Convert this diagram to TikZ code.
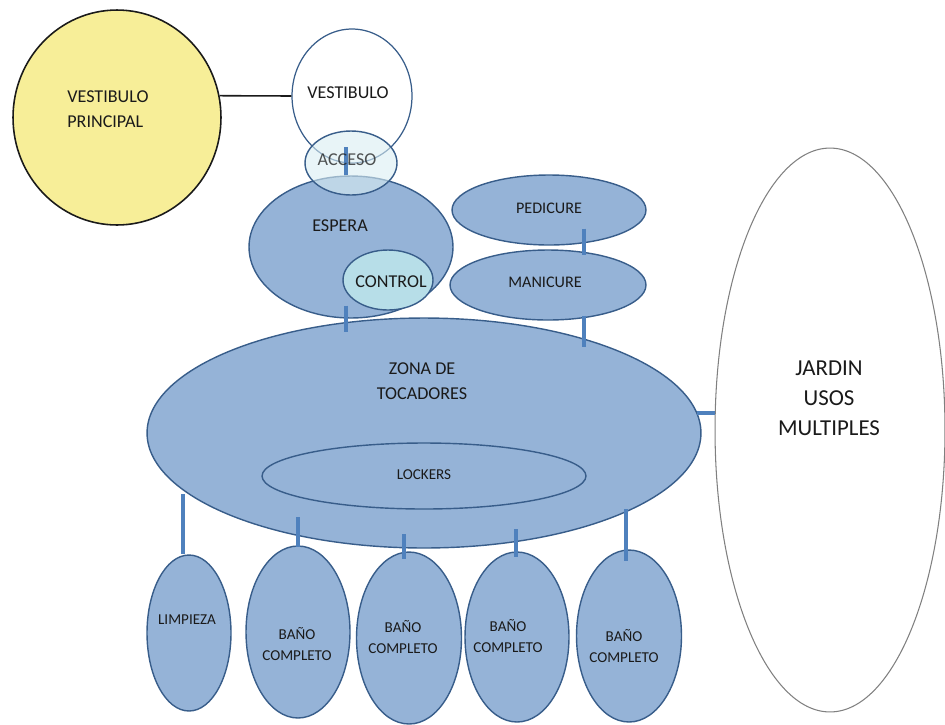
\documentclass[tikz,border=0pt]{standalone}
\usepackage{fontspec}
\setmainfont{Carlito}
\usetikzlibrary{shapes.geometric,calc}
\definecolor{zonefill}{HTML}{95B3D7}
\definecolor{zoneline}{HTML}{385D8A}
\definecolor{linkblue}{HTML}{4F81BD}
\definecolor{ctlfill}{HTML}{B7DEE8}
\definecolor{accfill}{HTML}{DAEEF3}
\definecolor{lobbyfill}{HTML}{F7EE98}
\definecolor{txt}{HTML}{1A1A1A}
\begin{document}
\begin{tikzpicture}[x=0.02cm,y=-0.02cm,
  room/.style={ellipse,draw=zoneline,line width=0.8pt,fill=zonefill,inner sep=0pt},
  link/.style={draw=linkblue,line width=1.8pt},
  lbl/.style={text=txt,align=center,inner sep=0pt},
  fsA/.style={font=\fontsize{10.3}{14}\selectfont},
  fsB/.style={font=\fontsize{9.2}{13}\selectfont},
  fsC/.style={font=\fontsize{8.6}{12.5}\selectfont},
  fsD/.style={font=\fontsize{13}{17}\selectfont}]
\useasboundingbox (0,0) rectangle (945,724);

% main lobby and entrance hall
\node[ellipse,draw=txt,line width=0.9pt,fill=lobbyfill,minimum width=4.16cm,minimum height=4.3cm,inner sep=0pt] (vp) at (117,117.5) {};
\node[ellipse,draw=zoneline,line width=0.7pt,fill=white,minimum width=2.4cm,minimum height=2.68cm,inner sep=0pt] (vest) at (352,96) {};
\draw[txt,line width=0.9pt] (vp.12) -- (vest.west);

% waiting area and control desk
\node[room,minimum width=4.08cm,minimum height=2.84cm] (esp) at (351,247) {};
\node[room,fill=ctlfill,minimum width=1.8cm,minimum height=1.2cm] (ctl) at (388,280) {};

% access, translucent over hall and waiting area
\node[ellipse,draw=zoneline,line width=0.8pt,fill=accfill,fill opacity=0.6,minimum width=1.84cm,minimum height=1.28cm,inner sep=0pt] (acc) at (351,163) {};
\draw[link] ($(acc.center)+(-5,-16)$) -- ($(acc.center)+(-5,12)$);

% pedicure / manicure
\node[room,minimum width=3.88cm,minimum height=1.4cm] (ped) at (549,210) {};
\node[room,minimum width=3.92cm,minimum height=1.4cm] (man) at (548,285) {};

% dressing zone with lockers
\node[room,minimum width=11.08cm,minimum height=4.6cm] (zona) at (424,433) {};
\node[room,minimum width=6.48cm,minimum height=1.32cm] (lock) at (424,476) {};

% garden
\node[ellipse,draw=black!50,line width=0.6pt,fill=white,minimum width=4.6cm,minimum height=11.28cm,inner sep=0pt] (jar) at (830,430) {};

% cleaning room and bathrooms
\node[room,minimum width=1.68cm,minimum height=3.12cm] (limp) at (189,633) {};
\node[room,minimum width=2.08cm,minimum height=3.44cm] (b1) at (298,632) {};
\node[room,minimum width=2.1cm,minimum height=3.44cm] (b2) at (409,638) {};
\node[room,minimum width=2.08cm,minimum height=3.4cm] (b3) at (517,637) {};
\node[room,minimum width=2.1cm,minimum height=3.44cm] (b4) at (629,636) {};

% connectors
\draw[link] ($(esp.south)+(-5,-13)$) -- ($(zona.north)+(-78,15)$);
\draw[link] ($(ped.south)+(35,-17)$) -- ($(man.north)+(36,6)$);
\draw[link] ($(man.south)+(36,-5)$) -- ($(zona.north)+(160,30)$);
\draw[link] ($(jar.west)+(0,-17)$) -- ($(jar.west)+(-18,-17)$);
\draw[link] ($(limp.north)+(-6,-60)$) -- ($(limp.north)+(-6,0)$);
\draw[link] ($(b1.north)+(0,-28)$) -- ($(b1.north)+(0,2)$);
\draw[link] ($(b2.north)+(-5,-17)$) -- ($(b2.north)+(-5,8)$);
\draw[link] ($(b3.north)+(-1,-22)$) -- ($(b3.north)+(-1,6)$);
\draw[link] ($(b4.north)+(-3,-40)$) -- ($(b4.north)+(-3,12)$);

% labels
\node[lbl,fsA,align=left,anchor=west] (tvp) at (67,109) {VESTIBULO\\PRINCIPAL};
\node[lbl,fsA] (tvest) at (348,93) {VESTIBULO};
\node[lbl,fsA,text opacity=0.75] (tacc) at (347,160) {ACCESO};
\node[lbl,fsA] (tesp) at (340,226) {ESPERA};
\node[lbl,fsA] (tctl) at (391,282) {CONTROL};
\node[lbl,fsB] (tped) at (549,208) {PEDICURE};
\node[lbl,fsB] (tman) at (545,282) {MANICURE};
\node[lbl,fsA] (tzona) at (422,381) {ZONA DE\\TOCADORES};
\node[lbl,fsC] (tlock) at (424,475) {LOCKERS};
\node[lbl,fsD] (tjar) at (829,398) {JARDIN\\USOS\\MULTIPLES};
\node[lbl,fsC] (tlimp) at (187,620) {LIMPIEZA};
\node[lbl,fsC] (tb1) at (297,644) {BAÑO\\COMPLETO};
\node[lbl,fsC] (tb2) at (403,637) {BAÑO\\COMPLETO};
\node[lbl,fsC] (tb3) at (508,636) {BAÑO\\COMPLETO};
\node[lbl,fsC] (tb4) at (624,646) {BAÑO\\COMPLETO};
\end{tikzpicture}
\end{document}
